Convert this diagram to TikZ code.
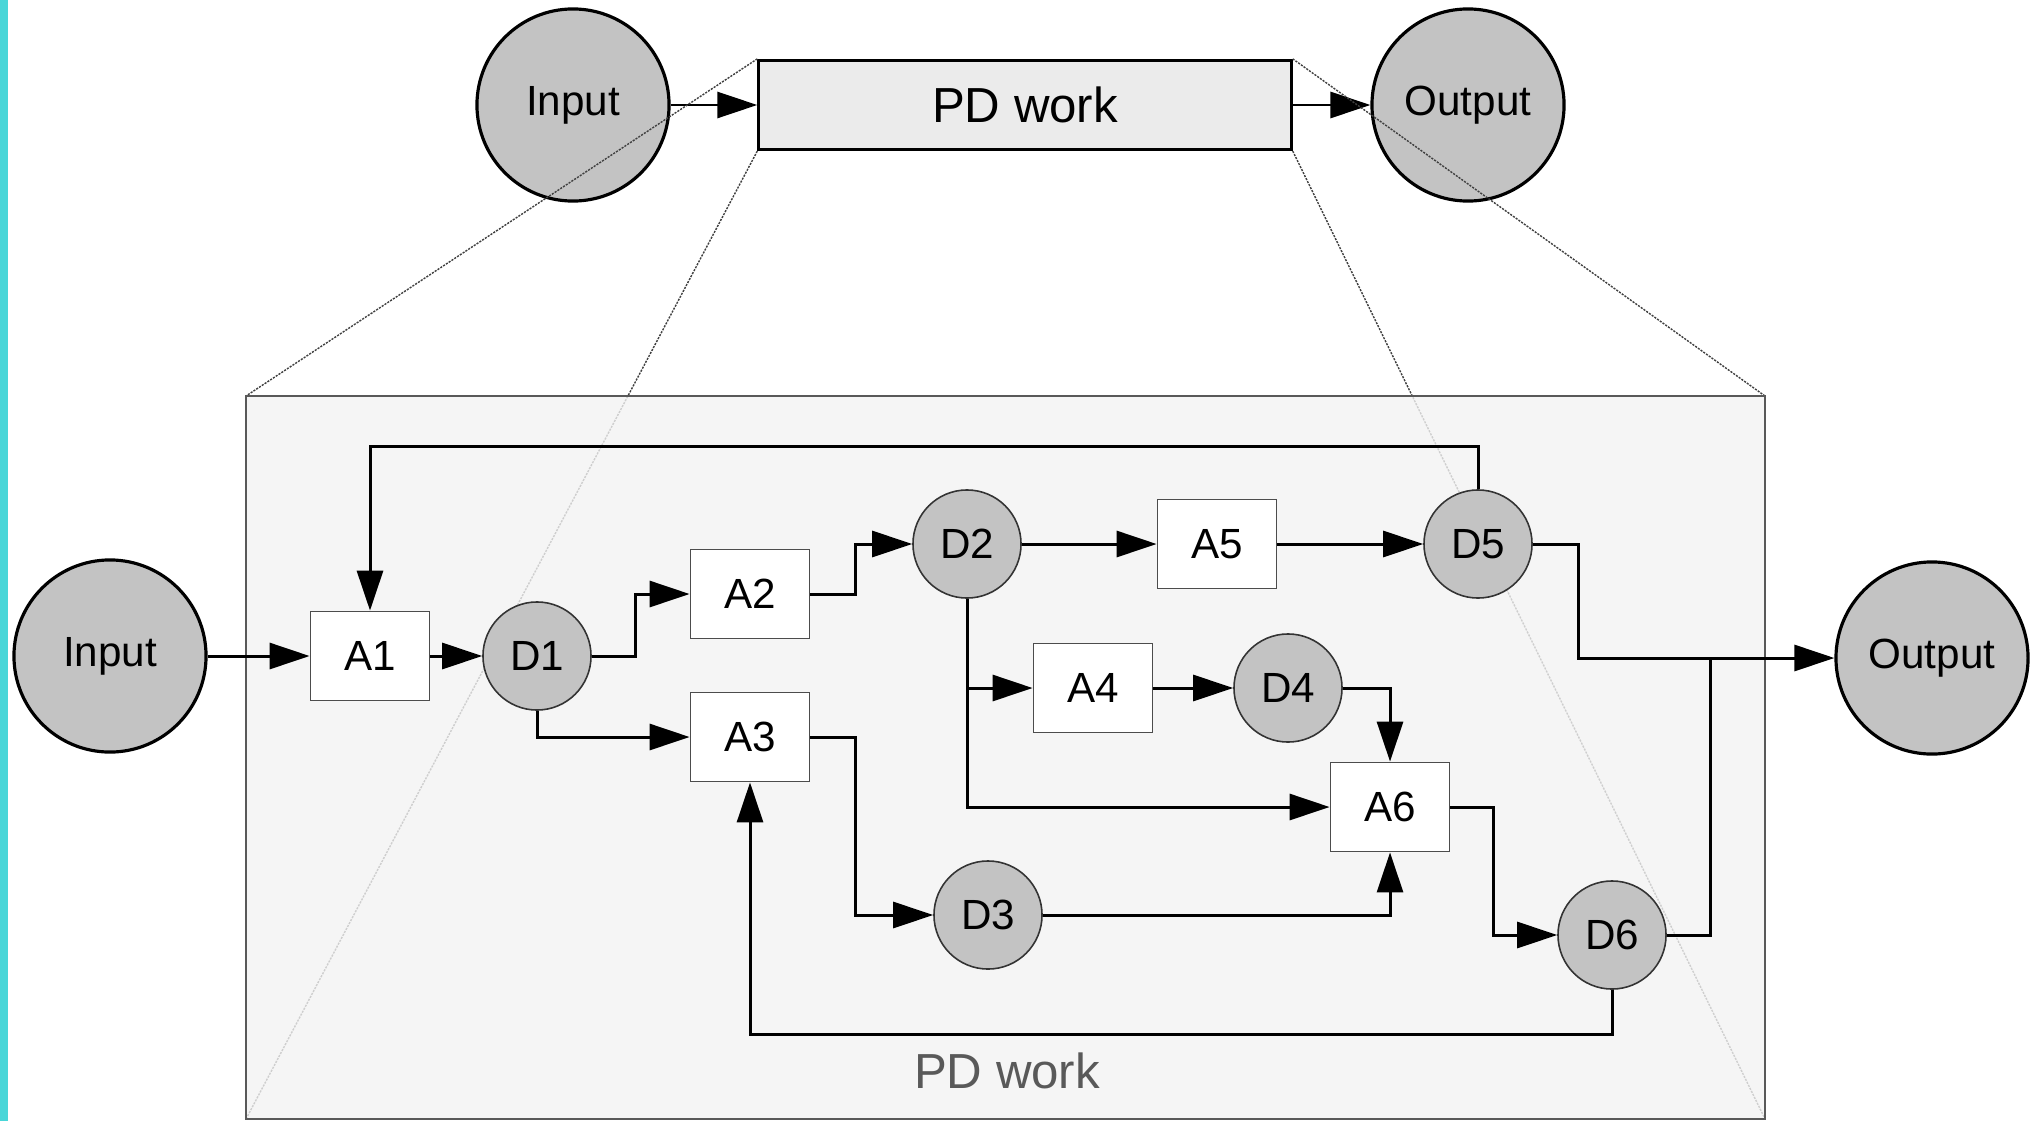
\documentclass[tikz,border=0pt]{standalone}
\usepackage{fontspec}
\setmainfont{Liberation Sans}
\usepackage{xcolor}
\usetikzlibrary{arrows.meta}
\definecolor{datagray}{RGB}{195,195,195}
\definecolor{topgray}{RGB}{235,235,235}
\definecolor{zoomgray}{RGB}{242,242,242}
\definecolor{edgecyan}{RGB}{72,214,216}
\tikzset{
    endnode/.style={circle, draw=black, fill=datagray, line width=0.9pt, minimum size=1.92cm, inner sep=0pt, font=\fontsize{12}{14}\selectfont},
    datanode/.style={circle, draw=black!80, fill=datagray, line width=0.45pt, minimum size=1.08cm, inner sep=0pt, font=\fontsize{12}{14}\selectfont},
    actbox/.style={rectangle, draw=black!70, fill=white, line width=0.5pt, minimum width=1.19cm, minimum height=0.89cm, inner sep=0pt, font=\fontsize{12}{14}\selectfont},
    workbox/.style={rectangle, draw=black, fill=topgray, line width=0.9pt, minimum width=5.32cm, minimum height=0.89cm, inner sep=0pt, font=\fontsize{14}{16}\selectfont},
    flow/.style={draw=black, line width=0.85pt, -{Triangle[length=0.4cm,width=0.26cm]}},
    joinline/.style={draw=black, line width=0.85pt},
    zoomline/.style={draw=black!75, line width=0.4pt, dash pattern=on 0.6pt off 0.35pt},
    zoombox/.style={draw=black!65, fill=zoomgray, fill opacity=0.8, line width=0.7pt}
}
\begin{document}
\begin{tikzpicture}[x=0.01cm, y=-0.01cm]
    \useasboundingbox (0,0) rectangle (2034,1121);
    \fill[edgecyan] (0,0) rectangle (8,1121);

    \node[endnode] (topin) at (573,105) {Input};
    \node[workbox] (pdtop) at (1025,105) {PD work};
    \node[endnode] (topout) at (1468,105) {Output};
    \draw[flow] (topin) -- (pdtop);
    \draw[flow] (pdtop) -- (topout);

    \coordinate (zoomnw) at (246,396);
    \coordinate (zoomse) at (1765,1119);
    \draw[zoomline] (pdtop.north west) -- (zoomnw);
    \draw[zoomline] (pdtop.south west) -- (zoomnw |- zoomse);
    \draw[zoomline] (pdtop.north east) -- (zoomse |- zoomnw);
    \draw[zoomline] (pdtop.south east) -- (zoomse);
    \draw[zoombox] (zoomnw) rectangle (zoomse);
    \node[font=\fontsize{14}{16}\selectfont, text=black!65] (pdlabel) at (1007,1071) {PD work};

    \node[endnode] (inp) at (110,656) {Input};
    \node[actbox] (a1) at (370,656) {A1};
    \node[datanode] (d1) at (537,656) {D1};
    \node[actbox] (a2) at (750,594) {A2};
    \node[actbox] (a3) at (750,737) {A3};
    \node[datanode] (d2) at (967,544) {D2};
    \node[actbox] (a5) at (1217,544) {A5};
    \node[datanode] (d5) at (1478,544) {D5};
    \node[actbox] (a4) at (1093,688) {A4};
    \node[datanode] (d4) at (1288,688) {D4};
    \node[actbox] (a6) at (1390,807) {A6};
    \node[datanode] (d3) at (988,915) {D3};
    \node[datanode] (d6) at (1612,935) {D6};
    \node[endnode] (outp) at (1932,658) {Output};
    \coordinate (merge) at (1710,658);

    \draw[flow] (inp) -- (a1);
    \draw[flow] (a1) -- (d1);
    \draw[flow] (d1.east) -- ++(44,0) |- (a2.west);
    \draw[flow] (d1.south) |- (a3.west);
    \draw[flow] (a2.east) -- ++(45,0) |- (d2.west);
    \draw[flow] (a3.east) -- ++(45,0) |- (d3.west);
    \draw[flow] (d2) -- (a5);
    \draw[flow] (a5) -- (d5);
    \draw[flow] (d2.south) |- (a4.west);
    \draw[flow] (d2.south) |- (a6.west);
    \draw[flow] (a4) -- (d4);
    \draw[flow] (d4.east) -| (a6.north);
    \draw[flow] (d3.east) -| (a6.south);
    \draw[flow] (a6.east) -- ++(43,0) |- (d6.west);
    \draw[flow] (d6.south) -- ++(0,45) -| (a3.south);
    \draw[flow] (d5.north) -- ++(0,-43) -| (a1.north);
    \draw[flow] (d5.east) -- ++(46,0) |- (outp.west);
    \draw[joinline] (d6.east) -| (merge);
\end{tikzpicture}
\end{document}
